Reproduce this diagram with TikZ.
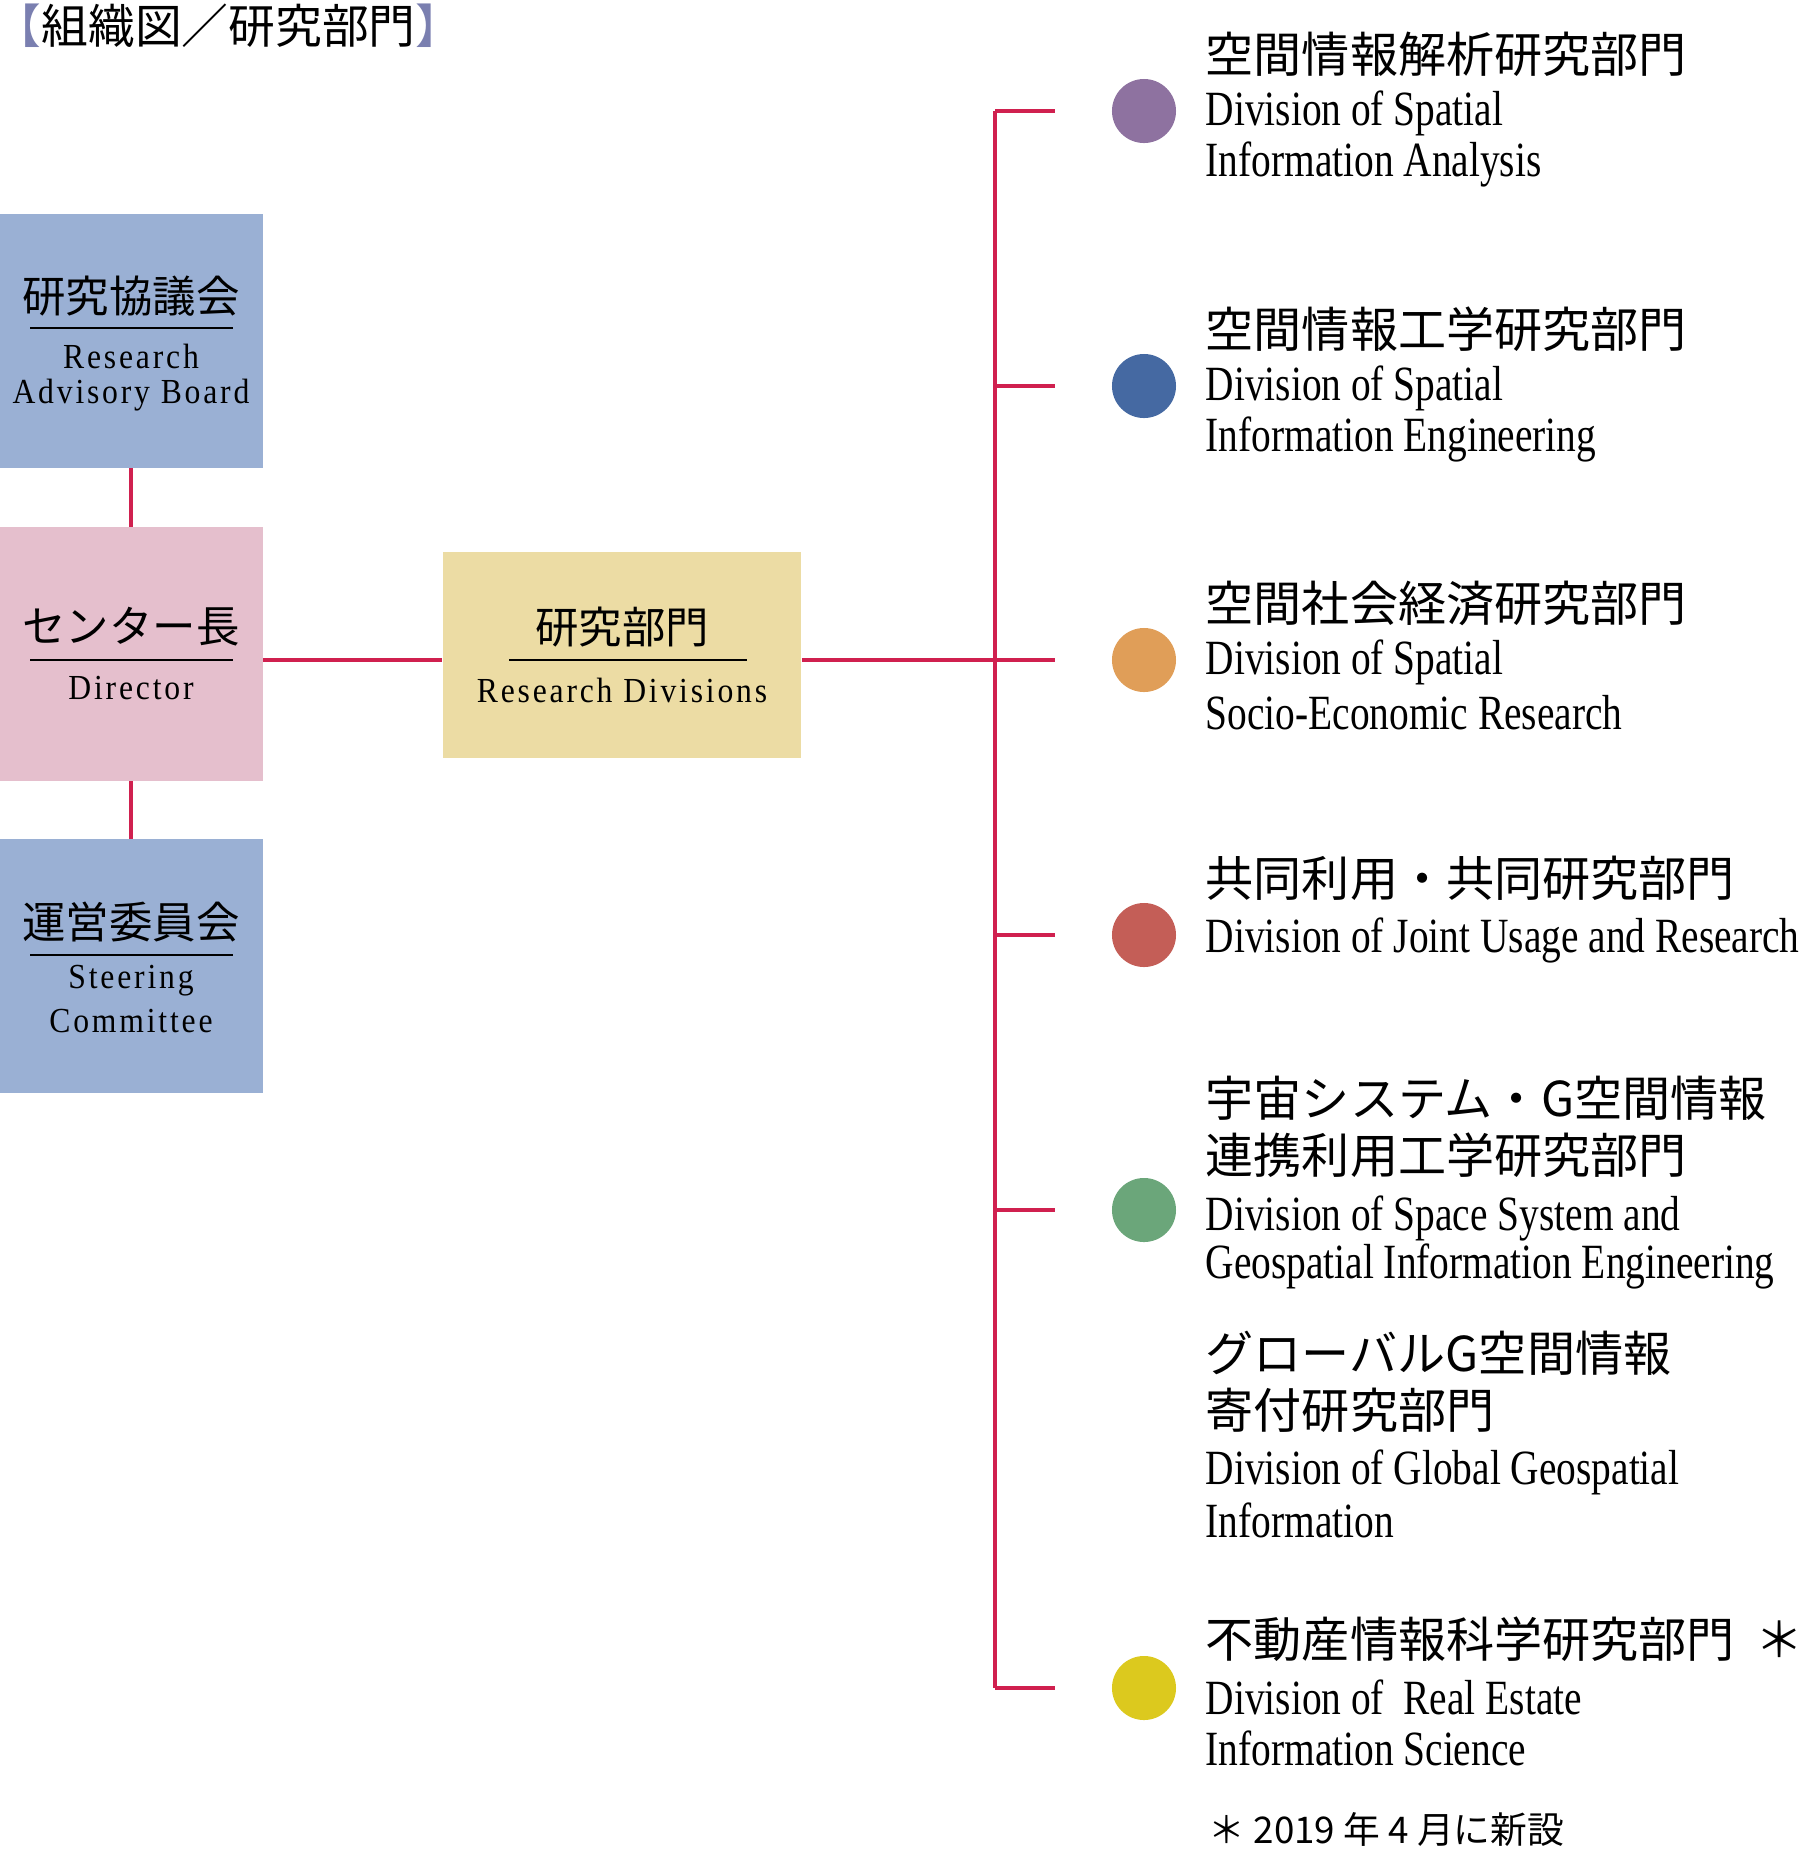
\documentclass[tikz,border=0pt]{standalone}
\usepackage{fontspec}
\setmainfont{Liberation Serif}[FakeStretch=0.8]
\newfontfamily\jp{Noto Sans CJK JP}[Scale=0.95]
\newfontfamily\boxen{Liberation Serif}[LetterSpace=8,FakeStretch=0.9]
\usetikzlibrary{positioning}
\definecolor{linered}{HTML}{D0204F}
\definecolor{boardblue}{HTML}{9AB0D4}
\definecolor{dirpink}{HTML}{E5BFCD}
\definecolor{divyellow}{HTML}{ECDCA4}
\definecolor{titleblue}{HTML}{7A7FB0}
\definecolor{cpurple}{HTML}{8E72A0}
\definecolor{cblue}{HTML}{4569A2}
\definecolor{corange}{HTML}{E09E58}
\definecolor{cred}{HTML}{C45E57}
\definecolor{cgreen}{HTML}{6BA67A}
\definecolor{cyellow}{HTML}{DCC91E}
\tikzset{
  orgbox/.style={minimum width=2.63cm,minimum height=2.53cm,inner sep=0pt},
  jptext/.style={font=\jp\fontsize{13}{15}\selectfont,inner sep=0pt},
  entext/.style={font=\boxen\fontsize{10}{12}\selectfont,inner sep=0pt},
  divjp/.style={anchor=west,font=\jp\fontsize{14.4}{18}\selectfont,inner sep=0pt},
  diven/.style={anchor=west,font=\fontsize{14}{17}\selectfont,inner sep=0pt},
  dot/.style={circle,minimum size=0.64cm,inner sep=0pt},
  link/.style={draw=linered,line width=1pt}
}
\begin{document}
\begin{tikzpicture}[x=0.01cm,y=-0.01cm]
\useasboundingbox (0,0) rectangle (1815,1850);
\node[anchor=west,inner sep=0pt,font=\jp\fontsize{14}{17}\selectfont] (title) at (-6,26)
  {\textcolor{titleblue}{【}組織図／研究部門\textcolor{titleblue}{】}};

% left column
\node[orgbox,fill=boardblue] (board) at (131,341) {};
\node[orgbox,fill=dirpink] (dir) at (131,654) {};
\node[orgbox,fill=boardblue] (steer) at (131,966) {};
\node[minimum width=3.58cm,minimum height=2.06cm,inner sep=0pt,fill=divyellow] (rd) at (622,655) {};

\node[jptext] (boardjp) at (131,296) {研究協議会};
\draw[line width=0.8pt] (30,328) -- (233,328);
\node[entext] (boarden1) at (131,356) {Research};
\node[entext] (boarden2) at (131,395) {Advisory Board};

\node[jptext] (dirjp) at (131,627) {センター長};
\draw[line width=0.8pt] (30,660) -- (233,660);
\node[entext] (diren) at (131,688) {Director};

\node[jptext] (steerjp) at (131,922) {運営委員会};
\draw[line width=0.8pt] (30,955) -- (233,955);
\node[entext] (steeren1) at (131,981) {Steering};
\node[entext] (steeren2) at (131,1021) {Committee};

\node[jptext] (rdjp) at (622,627) {研究部門};
\draw[line width=0.8pt] (509,660) -- (747,660);
\node[entext] (rden) at (622,690) {Research Divisions};

\draw[link] (board) -- (dir);
\draw[link] (dir) -- (steer);
\draw[link] (dir.east |- 0,660) -- (rd.west |- 0,660);

% divisions
\foreach \n/\y/\c in {1/111/cpurple,2/386/cblue,3/660/corange,4/935/cred,5/1210/cgreen,6/1688/cyellow}{
  \coordinate (t\n) at (995,\y);
  \node[dot,fill=\c] (d\n) at (1144,\y) {};
  \draw[link,shorten >=16] (t\n) -- (d\n.west);
}
\draw[link] (t1) -- (t6);
\draw[link] (rd.east |- t3) -- (t3);

\node[divjp] (d1jp) at (1205,54) {空間情報解析研究部門};
\node[diven] (d1en1) at (1205,113) {Division of Spatial};
\node[diven] (d1en2) at (1205,164) {Information Analysis};

\node[divjp] (d2jp) at (1205,329) {空間情報工学研究部門};
\node[diven] (d2en1) at (1205,388) {Division of Spatial};
\node[diven] (d2en2) at (1205,439) {Information Engineering};

\node[divjp] (d3jp) at (1205,603) {空間社会経済研究部門};
\node[diven] (d3en1) at (1205,662) {Division of Spatial};
\node[diven] (d3en2) at (1205,713) {Socio-Economic Research};

\node[divjp] (d4jp) at (1205,878) {共同利用・共同研究部門};
\node[diven] (d4en) at (1205,940) {Division of Joint Usage and Research};

\node[divjp] (d5jp1) at (1205,1098) {宇宙システム・G空間情報};
\node[divjp] (d5jp2) at (1205,1155) {連携利用工学研究部門};
\node[diven] (d5en1) at (1205,1218) {Division of Space System and};
\node[diven] (d5en2) at (1205,1266) {Geospatial Information Engineering};

\node[divjp] (gjp1) at (1205,1353) {グローバルG空間情報};
\node[divjp] (gjp2) at (1205,1410) {寄付研究部門};
\node[diven] (gen1) at (1205,1472) {Division of Global Geospatial};
\node[diven] (gen2) at (1205,1520) {Information};

\node[divjp] (d6jp) at (1205,1639) {不動産情報科学研究部門};
\node[divjp] (d6mark) at (1755,1639) {＊};
\node[diven] (d6en1) at (1205,1697) {Division of \ Real Estate};
\node[diven] (d6en2) at (1205,1748) {Information Science};

\node[anchor=west,inner sep=0pt,font=\jp\fontsize{11}{13}\selectfont] (note) at (1208,1830) {＊ 2019 年 4 月に新設};
\end{tikzpicture}
\end{document}
